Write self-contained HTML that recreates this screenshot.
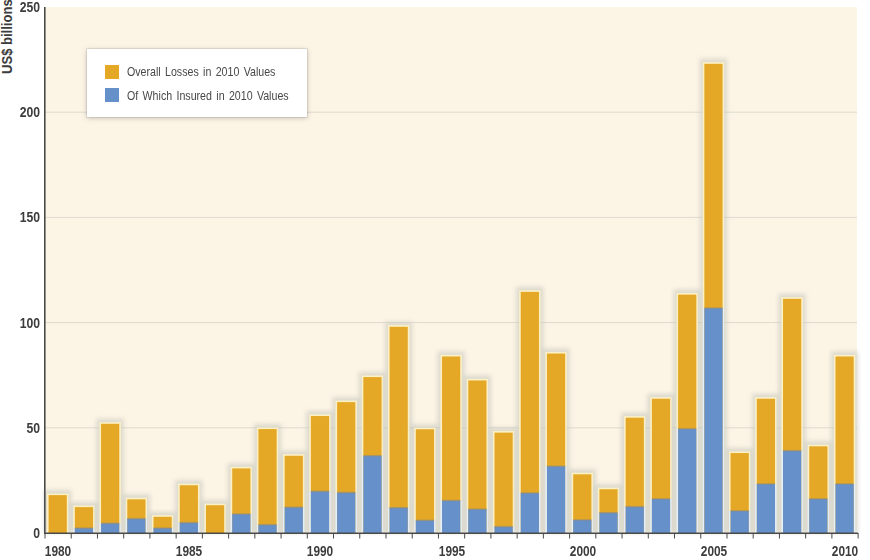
<!DOCTYPE html>
<html><head><meta charset="utf-8"><style>
html,body{margin:0;padding:0;background:#fff;}
body{width:870px;height:560px;position:relative;overflow:hidden;font-family:"Liberation Sans",sans-serif;}
svg{position:absolute;left:0;top:0;}
.yl{position:absolute;left:0;width:40px;text-align:right;font-size:14.5px;font-weight:bold;color:#3c3c3c;line-height:14px;transform:scaleX(0.84);transform-origin:right center;}
.xl{position:absolute;top:544px;width:40px;text-align:center;font-size:14.5px;font-weight:bold;color:#3c3c3c;line-height:14px;transform:scaleX(0.82);}
.ytitle{position:absolute;left:0px;top:74px;transform-origin:0 0;transform:rotate(-90deg) scaleX(0.9);font-size:14.5px;font-weight:bold;color:#3c3c3c;white-space:nowrap;line-height:14px;}
.legend{position:absolute;left:87px;top:49px;width:220px;height:68px;background:#fff;box-shadow:0 0 0 1px rgba(90,90,90,0.12),0 1px 5px rgba(90,90,85,0.35);}
.li{position:absolute;left:18px;font-size:13px;color:#484848;white-space:nowrap;word-spacing:1.7px;transform:scaleX(0.818);transform-origin:0 50%;line-height:14px;}
.sw{position:absolute;left:18px;width:14px;height:14px;}
</style></head><body>
<svg width="870" height="560">
<defs><filter id="blur" x="-50%" y="-10%" width="200%" height="120%"><feGaussianBlur stdDeviation="2.2"/></filter></defs>
<rect x="45" y="7" width="812" height="526" fill="#fcf4e5"/>
<line x1="45" x2="857" y1="427.80" y2="427.80" stroke="#dedacf" stroke-width="1"/>
<line x1="45" x2="857" y1="322.60" y2="322.60" stroke="#dedacf" stroke-width="1"/>
<line x1="45" x2="857" y1="217.40" y2="217.40" stroke="#dedacf" stroke-width="1"/>
<line x1="45" x2="857" y1="112.20" y2="112.20" stroke="#dedacf" stroke-width="1"/>
<rect x="44.10" y="490.13" width="27.20" height="42.87" fill="#bfc2b8" opacity="0.52" filter="url(#blur)"/>
<rect x="47.00" y="493.53" width="21.40" height="39.47" fill="#fdf0c4"/>
<rect x="48.60" y="495.13" width="18.20" height="37.87" fill="#e4a826"/>
<rect x="70.33" y="502.12" width="27.20" height="30.88" fill="#bfc2b8" opacity="0.52" filter="url(#blur)"/>
<rect x="73.23" y="505.52" width="21.40" height="22.64" fill="#fdf0c4"/>
<rect x="73.23" y="528.16" width="21.40" height="4.84" fill="#e6f0fb"/>
<rect x="74.83" y="507.12" width="18.20" height="25.88" fill="#e4a826"/>
<rect x="74.83" y="528.16" width="18.20" height="4.84" fill="#6690ca"/>
<rect x="74.83" y="527.36" width="18.20" height="1.6" fill="#8f8c78" opacity="0.55"/>
<rect x="96.56" y="418.80" width="27.20" height="114.20" fill="#bfc2b8" opacity="0.52" filter="url(#blur)"/>
<rect x="99.46" y="422.20" width="21.40" height="101.12" fill="#fdf0c4"/>
<rect x="99.46" y="523.32" width="21.40" height="9.68" fill="#e6f0fb"/>
<rect x="101.06" y="423.80" width="18.20" height="109.20" fill="#e4a826"/>
<rect x="101.06" y="523.32" width="18.20" height="9.68" fill="#6690ca"/>
<rect x="101.06" y="522.52" width="18.20" height="1.6" fill="#8f8c78" opacity="0.55"/>
<rect x="122.79" y="494.34" width="27.20" height="38.66" fill="#bfc2b8" opacity="0.52" filter="url(#blur)"/>
<rect x="125.69" y="497.74" width="21.40" height="20.96" fill="#fdf0c4"/>
<rect x="125.69" y="518.69" width="21.40" height="14.31" fill="#e6f0fb"/>
<rect x="127.29" y="499.34" width="18.20" height="33.66" fill="#e4a826"/>
<rect x="127.29" y="518.69" width="18.20" height="14.31" fill="#6690ca"/>
<rect x="127.29" y="517.89" width="18.20" height="1.6" fill="#8f8c78" opacity="0.55"/>
<rect x="149.02" y="511.80" width="27.20" height="21.20" fill="#bfc2b8" opacity="0.52" filter="url(#blur)"/>
<rect x="151.92" y="515.20" width="21.40" height="12.96" fill="#fdf0c4"/>
<rect x="151.92" y="528.16" width="21.40" height="4.84" fill="#e6f0fb"/>
<rect x="153.52" y="516.80" width="18.20" height="16.20" fill="#e4a826"/>
<rect x="153.52" y="528.16" width="18.20" height="4.84" fill="#6690ca"/>
<rect x="153.52" y="527.36" width="18.20" height="1.6" fill="#8f8c78" opacity="0.55"/>
<rect x="175.25" y="480.24" width="27.20" height="52.76" fill="#bfc2b8" opacity="0.52" filter="url(#blur)"/>
<rect x="178.15" y="483.64" width="21.40" height="39.05" fill="#fdf0c4"/>
<rect x="178.15" y="522.69" width="21.40" height="10.31" fill="#e6f0fb"/>
<rect x="179.75" y="485.24" width="18.20" height="47.76" fill="#e4a826"/>
<rect x="179.75" y="522.69" width="18.20" height="10.31" fill="#6690ca"/>
<rect x="179.75" y="521.89" width="18.20" height="1.6" fill="#8f8c78" opacity="0.55"/>
<rect x="201.48" y="500.23" width="27.20" height="32.77" fill="#bfc2b8" opacity="0.52" filter="url(#blur)"/>
<rect x="204.38" y="503.63" width="21.40" height="29.37" fill="#fdf0c4"/>
<rect x="205.98" y="505.23" width="18.20" height="27.77" fill="#e4a826"/>
<rect x="227.71" y="463.41" width="27.20" height="69.59" fill="#bfc2b8" opacity="0.52" filter="url(#blur)"/>
<rect x="230.61" y="466.81" width="21.40" height="47.26" fill="#fdf0c4"/>
<rect x="230.61" y="514.06" width="21.40" height="18.94" fill="#e6f0fb"/>
<rect x="232.21" y="468.41" width="18.20" height="64.59" fill="#e4a826"/>
<rect x="232.21" y="514.06" width="18.20" height="18.94" fill="#6690ca"/>
<rect x="232.21" y="513.26" width="18.20" height="1.6" fill="#8f8c78" opacity="0.55"/>
<rect x="253.94" y="424.06" width="27.20" height="108.94" fill="#bfc2b8" opacity="0.52" filter="url(#blur)"/>
<rect x="256.84" y="427.46" width="21.40" height="97.33" fill="#fdf0c4"/>
<rect x="256.84" y="524.79" width="21.40" height="8.21" fill="#e6f0fb"/>
<rect x="258.44" y="429.06" width="18.20" height="103.94" fill="#e4a826"/>
<rect x="258.44" y="524.79" width="18.20" height="8.21" fill="#6690ca"/>
<rect x="258.44" y="523.99" width="18.20" height="1.6" fill="#8f8c78" opacity="0.55"/>
<rect x="280.17" y="450.78" width="27.20" height="82.22" fill="#bfc2b8" opacity="0.52" filter="url(#blur)"/>
<rect x="283.07" y="454.18" width="21.40" height="53.15" fill="#fdf0c4"/>
<rect x="283.07" y="507.33" width="21.40" height="25.67" fill="#e6f0fb"/>
<rect x="284.67" y="455.78" width="18.20" height="77.22" fill="#e4a826"/>
<rect x="284.67" y="507.33" width="18.20" height="25.67" fill="#6690ca"/>
<rect x="284.67" y="506.53" width="18.20" height="1.6" fill="#8f8c78" opacity="0.55"/>
<rect x="306.40" y="411.02" width="27.20" height="121.98" fill="#bfc2b8" opacity="0.52" filter="url(#blur)"/>
<rect x="309.30" y="414.42" width="21.40" height="76.92" fill="#fdf0c4"/>
<rect x="309.30" y="491.34" width="21.40" height="41.66" fill="#e6f0fb"/>
<rect x="310.90" y="416.02" width="18.20" height="116.98" fill="#e4a826"/>
<rect x="310.90" y="491.34" width="18.20" height="41.66" fill="#6690ca"/>
<rect x="310.90" y="490.54" width="18.20" height="1.6" fill="#8f8c78" opacity="0.55"/>
<rect x="332.63" y="397.13" width="27.20" height="135.87" fill="#bfc2b8" opacity="0.52" filter="url(#blur)"/>
<rect x="335.53" y="400.53" width="21.40" height="92.07" fill="#fdf0c4"/>
<rect x="335.53" y="492.60" width="21.40" height="40.40" fill="#e6f0fb"/>
<rect x="337.13" y="402.13" width="18.20" height="130.87" fill="#e4a826"/>
<rect x="337.13" y="492.60" width="18.20" height="40.40" fill="#6690ca"/>
<rect x="337.13" y="491.80" width="18.20" height="1.6" fill="#8f8c78" opacity="0.55"/>
<rect x="358.86" y="372.09" width="27.20" height="160.91" fill="#bfc2b8" opacity="0.52" filter="url(#blur)"/>
<rect x="361.76" y="375.49" width="21.40" height="80.29" fill="#fdf0c4"/>
<rect x="361.76" y="455.78" width="21.40" height="77.22" fill="#e6f0fb"/>
<rect x="363.36" y="377.09" width="18.20" height="155.91" fill="#e4a826"/>
<rect x="363.36" y="455.78" width="18.20" height="77.22" fill="#6690ca"/>
<rect x="363.36" y="454.98" width="18.20" height="1.6" fill="#8f8c78" opacity="0.55"/>
<rect x="385.09" y="321.81" width="27.20" height="211.19" fill="#bfc2b8" opacity="0.52" filter="url(#blur)"/>
<rect x="387.99" y="325.21" width="21.40" height="182.54" fill="#fdf0c4"/>
<rect x="387.99" y="507.75" width="21.40" height="25.25" fill="#e6f0fb"/>
<rect x="389.59" y="326.81" width="18.20" height="206.19" fill="#e4a826"/>
<rect x="389.59" y="507.75" width="18.20" height="25.25" fill="#6690ca"/>
<rect x="389.59" y="506.95" width="18.20" height="1.6" fill="#8f8c78" opacity="0.55"/>
<rect x="411.32" y="424.27" width="27.20" height="108.73" fill="#bfc2b8" opacity="0.52" filter="url(#blur)"/>
<rect x="414.22" y="427.67" width="21.40" height="92.70" fill="#fdf0c4"/>
<rect x="414.22" y="520.38" width="21.40" height="12.62" fill="#e6f0fb"/>
<rect x="415.82" y="429.27" width="18.20" height="103.73" fill="#e4a826"/>
<rect x="415.82" y="520.38" width="18.20" height="12.62" fill="#6690ca"/>
<rect x="415.82" y="519.58" width="18.20" height="1.6" fill="#8f8c78" opacity="0.55"/>
<rect x="437.55" y="351.47" width="27.20" height="181.53" fill="#bfc2b8" opacity="0.52" filter="url(#blur)"/>
<rect x="440.45" y="354.87" width="21.40" height="145.72" fill="#fdf0c4"/>
<rect x="440.45" y="500.60" width="21.40" height="32.40" fill="#e6f0fb"/>
<rect x="442.05" y="356.47" width="18.20" height="176.53" fill="#e4a826"/>
<rect x="442.05" y="500.60" width="18.20" height="32.40" fill="#6690ca"/>
<rect x="442.05" y="499.80" width="18.20" height="1.6" fill="#8f8c78" opacity="0.55"/>
<rect x="463.78" y="375.46" width="27.20" height="157.54" fill="#bfc2b8" opacity="0.52" filter="url(#blur)"/>
<rect x="466.68" y="378.86" width="21.40" height="130.36" fill="#fdf0c4"/>
<rect x="466.68" y="509.22" width="21.40" height="23.78" fill="#e6f0fb"/>
<rect x="468.28" y="380.46" width="18.20" height="152.54" fill="#e4a826"/>
<rect x="468.28" y="509.22" width="18.20" height="23.78" fill="#6690ca"/>
<rect x="468.28" y="508.42" width="18.20" height="1.6" fill="#8f8c78" opacity="0.55"/>
<rect x="490.01" y="427.64" width="27.20" height="105.36" fill="#bfc2b8" opacity="0.52" filter="url(#blur)"/>
<rect x="492.91" y="431.04" width="21.40" height="95.65" fill="#fdf0c4"/>
<rect x="492.91" y="526.69" width="21.40" height="6.31" fill="#e6f0fb"/>
<rect x="494.51" y="432.64" width="18.20" height="100.36" fill="#e4a826"/>
<rect x="494.51" y="526.69" width="18.20" height="6.31" fill="#6690ca"/>
<rect x="494.51" y="525.89" width="18.20" height="1.6" fill="#8f8c78" opacity="0.55"/>
<rect x="516.24" y="286.88" width="27.20" height="246.12" fill="#bfc2b8" opacity="0.52" filter="url(#blur)"/>
<rect x="519.14" y="290.28" width="21.40" height="202.74" fill="#fdf0c4"/>
<rect x="519.14" y="493.02" width="21.40" height="39.98" fill="#e6f0fb"/>
<rect x="520.74" y="291.88" width="18.20" height="241.12" fill="#e4a826"/>
<rect x="520.74" y="493.02" width="18.20" height="39.98" fill="#6690ca"/>
<rect x="520.74" y="492.22" width="18.20" height="1.6" fill="#8f8c78" opacity="0.55"/>
<rect x="542.47" y="348.53" width="27.20" height="184.47" fill="#bfc2b8" opacity="0.52" filter="url(#blur)"/>
<rect x="545.37" y="351.93" width="21.40" height="114.37" fill="#fdf0c4"/>
<rect x="545.37" y="466.30" width="21.40" height="66.70" fill="#e6f0fb"/>
<rect x="546.97" y="353.53" width="18.20" height="179.47" fill="#e4a826"/>
<rect x="546.97" y="466.30" width="18.20" height="66.70" fill="#6690ca"/>
<rect x="546.97" y="465.50" width="18.20" height="1.6" fill="#8f8c78" opacity="0.55"/>
<rect x="568.70" y="469.30" width="27.20" height="63.70" fill="#bfc2b8" opacity="0.52" filter="url(#blur)"/>
<rect x="571.60" y="472.70" width="21.40" height="47.26" fill="#fdf0c4"/>
<rect x="571.60" y="519.96" width="21.40" height="13.04" fill="#e6f0fb"/>
<rect x="573.20" y="474.30" width="18.20" height="58.70" fill="#e4a826"/>
<rect x="573.20" y="519.96" width="18.20" height="13.04" fill="#6690ca"/>
<rect x="573.20" y="519.16" width="18.20" height="1.6" fill="#8f8c78" opacity="0.55"/>
<rect x="594.93" y="484.24" width="27.20" height="48.76" fill="#bfc2b8" opacity="0.52" filter="url(#blur)"/>
<rect x="597.83" y="487.64" width="21.40" height="25.16" fill="#fdf0c4"/>
<rect x="597.83" y="512.80" width="21.40" height="20.20" fill="#e6f0fb"/>
<rect x="599.43" y="489.24" width="18.20" height="43.76" fill="#e4a826"/>
<rect x="599.43" y="512.80" width="18.20" height="20.20" fill="#6690ca"/>
<rect x="599.43" y="512.00" width="18.20" height="1.6" fill="#8f8c78" opacity="0.55"/>
<rect x="621.16" y="412.70" width="27.20" height="120.30" fill="#bfc2b8" opacity="0.52" filter="url(#blur)"/>
<rect x="624.06" y="416.10" width="21.40" height="90.60" fill="#fdf0c4"/>
<rect x="624.06" y="506.70" width="21.40" height="26.30" fill="#e6f0fb"/>
<rect x="625.66" y="417.70" width="18.20" height="115.30" fill="#e4a826"/>
<rect x="625.66" y="506.70" width="18.20" height="26.30" fill="#6690ca"/>
<rect x="625.66" y="505.90" width="18.20" height="1.6" fill="#8f8c78" opacity="0.55"/>
<rect x="647.39" y="393.76" width="27.20" height="139.24" fill="#bfc2b8" opacity="0.52" filter="url(#blur)"/>
<rect x="650.29" y="397.16" width="21.40" height="101.75" fill="#fdf0c4"/>
<rect x="650.29" y="498.92" width="21.40" height="34.08" fill="#e6f0fb"/>
<rect x="651.89" y="398.76" width="18.20" height="134.24" fill="#e4a826"/>
<rect x="651.89" y="498.92" width="18.20" height="34.08" fill="#6690ca"/>
<rect x="651.89" y="498.12" width="18.20" height="1.6" fill="#8f8c78" opacity="0.55"/>
<rect x="673.62" y="289.62" width="27.20" height="243.38" fill="#bfc2b8" opacity="0.52" filter="url(#blur)"/>
<rect x="676.52" y="293.02" width="21.40" height="135.84" fill="#fdf0c4"/>
<rect x="676.52" y="428.85" width="21.40" height="104.15" fill="#e6f0fb"/>
<rect x="678.12" y="294.62" width="18.20" height="238.38" fill="#e4a826"/>
<rect x="678.12" y="428.85" width="18.20" height="104.15" fill="#6690ca"/>
<rect x="678.12" y="428.05" width="18.20" height="1.6" fill="#8f8c78" opacity="0.55"/>
<rect x="699.85" y="58.81" width="27.20" height="474.19" fill="#bfc2b8" opacity="0.52" filter="url(#blur)"/>
<rect x="702.75" y="62.21" width="21.40" height="245.87" fill="#fdf0c4"/>
<rect x="702.75" y="308.08" width="21.40" height="224.92" fill="#e6f0fb"/>
<rect x="704.35" y="63.81" width="18.20" height="469.19" fill="#e4a826"/>
<rect x="704.35" y="308.08" width="18.20" height="224.92" fill="#6690ca"/>
<rect x="704.35" y="307.28" width="18.20" height="1.6" fill="#8f8c78" opacity="0.55"/>
<rect x="726.08" y="448.05" width="27.20" height="84.95" fill="#bfc2b8" opacity="0.52" filter="url(#blur)"/>
<rect x="728.98" y="451.45" width="21.40" height="59.46" fill="#fdf0c4"/>
<rect x="728.98" y="510.91" width="21.40" height="22.09" fill="#e6f0fb"/>
<rect x="730.58" y="453.05" width="18.20" height="79.95" fill="#e4a826"/>
<rect x="730.58" y="510.91" width="18.20" height="22.09" fill="#6690ca"/>
<rect x="730.58" y="510.11" width="18.20" height="1.6" fill="#8f8c78" opacity="0.55"/>
<rect x="752.31" y="393.76" width="27.20" height="139.24" fill="#bfc2b8" opacity="0.52" filter="url(#blur)"/>
<rect x="755.21" y="397.16" width="21.40" height="86.81" fill="#fdf0c4"/>
<rect x="755.21" y="483.98" width="21.40" height="49.02" fill="#e6f0fb"/>
<rect x="756.81" y="398.76" width="18.20" height="134.24" fill="#e4a826"/>
<rect x="756.81" y="483.98" width="18.20" height="49.02" fill="#6690ca"/>
<rect x="756.81" y="483.18" width="18.20" height="1.6" fill="#8f8c78" opacity="0.55"/>
<rect x="778.54" y="293.82" width="27.20" height="239.18" fill="#bfc2b8" opacity="0.52" filter="url(#blur)"/>
<rect x="781.44" y="297.22" width="21.40" height="153.51" fill="#fdf0c4"/>
<rect x="781.44" y="450.73" width="21.40" height="82.27" fill="#e6f0fb"/>
<rect x="783.04" y="298.82" width="18.20" height="234.18" fill="#e4a826"/>
<rect x="783.04" y="450.73" width="18.20" height="82.27" fill="#6690ca"/>
<rect x="783.04" y="449.93" width="18.20" height="1.6" fill="#8f8c78" opacity="0.55"/>
<rect x="804.77" y="441.32" width="27.20" height="91.68" fill="#bfc2b8" opacity="0.52" filter="url(#blur)"/>
<rect x="807.67" y="444.72" width="21.40" height="54.20" fill="#fdf0c4"/>
<rect x="807.67" y="498.92" width="21.40" height="34.08" fill="#e6f0fb"/>
<rect x="809.27" y="446.32" width="18.20" height="86.68" fill="#e4a826"/>
<rect x="809.27" y="498.92" width="18.20" height="34.08" fill="#6690ca"/>
<rect x="809.27" y="498.12" width="18.20" height="1.6" fill="#8f8c78" opacity="0.55"/>
<rect x="831.00" y="351.47" width="27.20" height="181.53" fill="#bfc2b8" opacity="0.52" filter="url(#blur)"/>
<rect x="833.90" y="354.87" width="21.40" height="129.10" fill="#fdf0c4"/>
<rect x="833.90" y="483.98" width="21.40" height="49.02" fill="#e6f0fb"/>
<rect x="835.50" y="356.47" width="18.20" height="176.53" fill="#e4a826"/>
<rect x="835.50" y="483.98" width="18.20" height="49.02" fill="#6690ca"/>
<rect x="835.50" y="483.18" width="18.20" height="1.6" fill="#8f8c78" opacity="0.55"/>
<line x1="44.8" x2="44.8" y1="7" y2="534" stroke="#4a4a48" stroke-width="1.6"/>
<line x1="44" x2="858" y1="533.2" y2="533.2" stroke="#4a4a48" stroke-width="1.6"/>
<line x1="45.00" x2="45.00" y1="533" y2="538.5" stroke="#4a4a48" stroke-width="1"/>
<line x1="71.23" x2="71.23" y1="533" y2="538.5" stroke="#4a4a48" stroke-width="1"/>
<line x1="97.46" x2="97.46" y1="533" y2="538.5" stroke="#4a4a48" stroke-width="1"/>
<line x1="123.69" x2="123.69" y1="533" y2="538.5" stroke="#4a4a48" stroke-width="1"/>
<line x1="149.92" x2="149.92" y1="533" y2="538.5" stroke="#4a4a48" stroke-width="1"/>
<line x1="176.15" x2="176.15" y1="533" y2="538.5" stroke="#4a4a48" stroke-width="1"/>
<line x1="202.38" x2="202.38" y1="533" y2="538.5" stroke="#4a4a48" stroke-width="1"/>
<line x1="228.61" x2="228.61" y1="533" y2="538.5" stroke="#4a4a48" stroke-width="1"/>
<line x1="254.84" x2="254.84" y1="533" y2="538.5" stroke="#4a4a48" stroke-width="1"/>
<line x1="281.07" x2="281.07" y1="533" y2="538.5" stroke="#4a4a48" stroke-width="1"/>
<line x1="307.30" x2="307.30" y1="533" y2="538.5" stroke="#4a4a48" stroke-width="1"/>
<line x1="333.53" x2="333.53" y1="533" y2="538.5" stroke="#4a4a48" stroke-width="1"/>
<line x1="359.76" x2="359.76" y1="533" y2="538.5" stroke="#4a4a48" stroke-width="1"/>
<line x1="385.99" x2="385.99" y1="533" y2="538.5" stroke="#4a4a48" stroke-width="1"/>
<line x1="412.22" x2="412.22" y1="533" y2="538.5" stroke="#4a4a48" stroke-width="1"/>
<line x1="438.45" x2="438.45" y1="533" y2="538.5" stroke="#4a4a48" stroke-width="1"/>
<line x1="464.68" x2="464.68" y1="533" y2="538.5" stroke="#4a4a48" stroke-width="1"/>
<line x1="490.91" x2="490.91" y1="533" y2="538.5" stroke="#4a4a48" stroke-width="1"/>
<line x1="517.14" x2="517.14" y1="533" y2="538.5" stroke="#4a4a48" stroke-width="1"/>
<line x1="543.37" x2="543.37" y1="533" y2="538.5" stroke="#4a4a48" stroke-width="1"/>
<line x1="569.60" x2="569.60" y1="533" y2="538.5" stroke="#4a4a48" stroke-width="1"/>
<line x1="595.83" x2="595.83" y1="533" y2="538.5" stroke="#4a4a48" stroke-width="1"/>
<line x1="622.06" x2="622.06" y1="533" y2="538.5" stroke="#4a4a48" stroke-width="1"/>
<line x1="648.29" x2="648.29" y1="533" y2="538.5" stroke="#4a4a48" stroke-width="1"/>
<line x1="674.52" x2="674.52" y1="533" y2="538.5" stroke="#4a4a48" stroke-width="1"/>
<line x1="700.75" x2="700.75" y1="533" y2="538.5" stroke="#4a4a48" stroke-width="1"/>
<line x1="726.98" x2="726.98" y1="533" y2="538.5" stroke="#4a4a48" stroke-width="1"/>
<line x1="753.21" x2="753.21" y1="533" y2="538.5" stroke="#4a4a48" stroke-width="1"/>
<line x1="779.44" x2="779.44" y1="533" y2="538.5" stroke="#4a4a48" stroke-width="1"/>
<line x1="805.67" x2="805.67" y1="533" y2="538.5" stroke="#4a4a48" stroke-width="1"/>
<line x1="831.90" x2="831.90" y1="533" y2="538.5" stroke="#4a4a48" stroke-width="1"/>
<line x1="858.13" x2="858.13" y1="533" y2="538.5" stroke="#4a4a48" stroke-width="1"/>
</svg>
<div class="yl" style="top:526.0px">0</div>
<div class="yl" style="top:420.8px">50</div>
<div class="yl" style="top:315.6px">100</div>
<div class="yl" style="top:210.4px">150</div>
<div class="yl" style="top:105.2px">200</div>
<div class="yl" style="top:0.0px">250</div>

<div class="xl" style="left:38.1px">1980</div>
<div class="xl" style="left:169.2px">1985</div>
<div class="xl" style="left:300.4px">1990</div>
<div class="xl" style="left:431.6px">1995</div>
<div class="xl" style="left:562.7px">2000</div>
<div class="xl" style="left:693.9px">2005</div>
<div class="xl" style="left:825.0px">2010</div>

<div class="ytitle">US$ billions</div>
<div class="legend">
<div class="sw" style="top:15.5px;background:#e4a826"></div>
<div class="li" style="left:40px;top:16px">Overall Losses in 2010 Values</div>
<div class="sw" style="top:39px;background:#6690ca"></div>
<div class="li" style="left:40px;top:40px">Of Which Insured in 2010 Values</div>
</div>
</body></html>
